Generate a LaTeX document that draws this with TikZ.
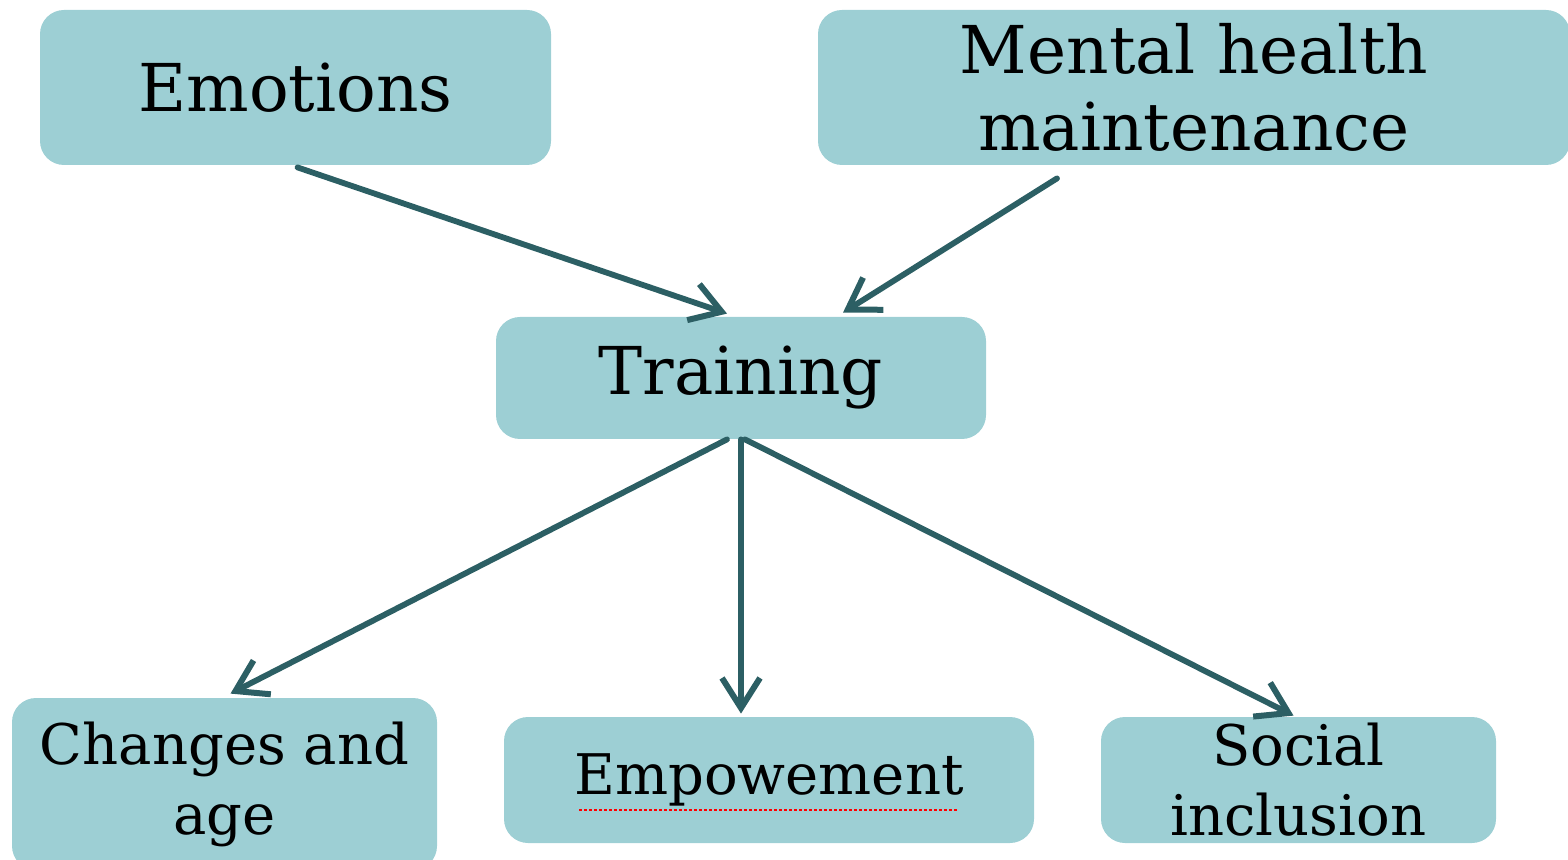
\documentclass[tikz,border=0pt]{standalone}
\usepackage{fontspec}
\setmainfont{DejaVu Serif}
\usetikzlibrary{arrows.meta}
\definecolor{boxfill}{HTML}{9DCFD4}
\definecolor{arrowcol}{HTML}{2C5F64}
\tikzset{
  box/.style={draw=none, fill=boxfill, rounded corners=12pt, inner sep=0pt, align=center, text=black},
  bigtxt/.style={font=\fontsize{33}{38.5}\selectfont},
  smalltxt/.style={font=\fontsize{28}{35}\selectfont},
  conn/.style={draw=arrowcol, line width=2.9pt, line cap=round,
    -{Straight Barb[length=15pt,width=19pt,line width=3pt]}},
  spell/.style={draw=red, line width=1.2pt, dash pattern=on 1.5pt off 1pt}
}
\begin{document}
\begin{tikzpicture}[x=0.5pt,y=-0.5pt]
\useasboundingbox (0,0) rectangle (1568,860);
\node[box, bigtxt, minimum width=255.5pt, minimum height=77.5pt] (emo) at (295.5,87.5) {Emotions};
\node[box, bigtxt, minimum width=376pt, minimum height=77.5pt] (ment) at (1194,87.5) {Mental health\\maintenance};
\node[box, bigtxt, minimum width=245pt, minimum height=61pt] (train) at (741,378) {Training};
\node[box, smalltxt, minimum width=212.5pt, minimum height=86pt] (chg) at (224.5,784) {Changes and\\age};
\node[box, smalltxt, minimum width=265pt, minimum height=63pt] (emp) at (769,780) {Empowement};
\node[box, smalltxt, minimum width=197.5pt, minimum height=63pt] (soc) at (1298.5,780) {Social\\inclusion};
\draw[spell] ([xshift=-95pt,yshift=-15pt]emp.center) -- ([xshift=95pt,yshift=-15pt]emp.center);
\draw[conn] ([xshift=1pt,yshift=-1pt]emo.south) -- ([xshift=-7pt,yshift=1.5pt]train.north);
\draw[conn] ([xshift=-68.5pt,yshift=-6.5pt]ment.south) -- ([xshift=51pt,yshift=2pt]train.north);
\draw[conn] ([xshift=-7pt]train.south) -- ([xshift=3pt,yshift=2pt]chg.north);
\draw[conn] (train.south) -- ([xshift=-14pt,yshift=1.5pt]emp.north);
\draw[conn] ([xshift=2pt]train.south) -- ([xshift=-2.5pt,yshift=0.5pt]soc.north);
\end{tikzpicture}
\end{document}
